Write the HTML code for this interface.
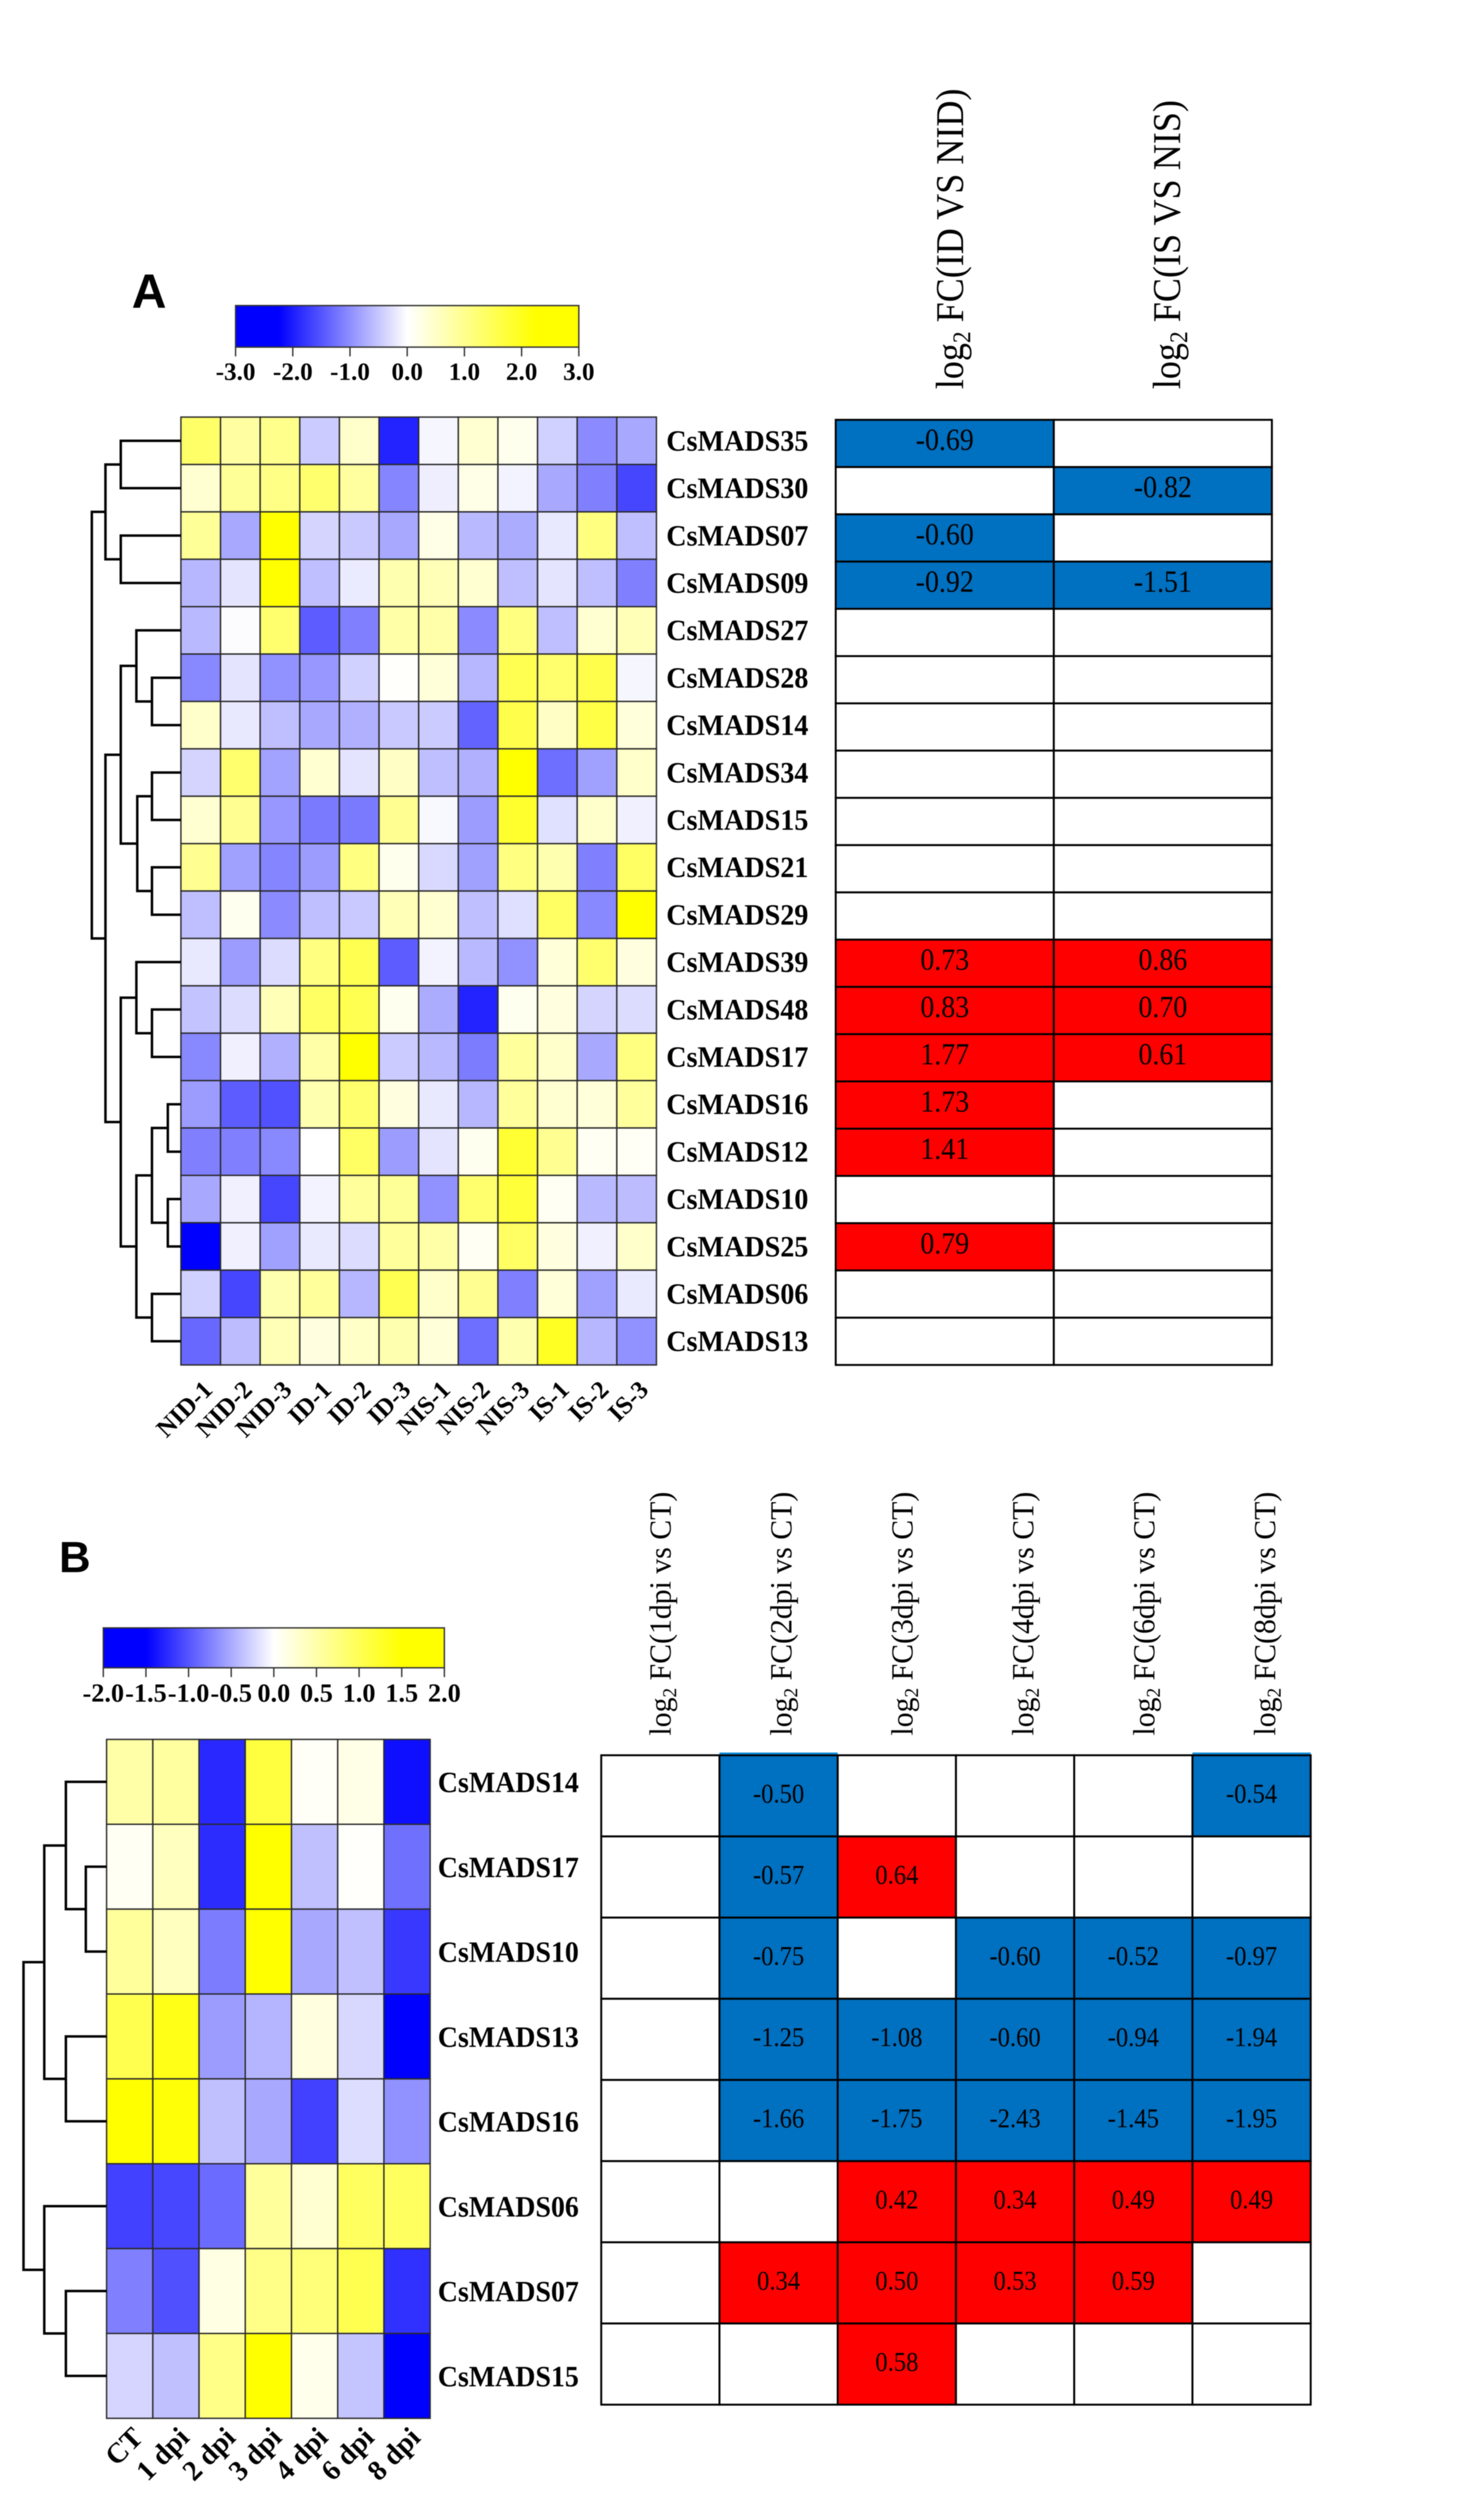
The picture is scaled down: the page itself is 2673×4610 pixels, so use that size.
<!DOCTYPE html>
<html lang="en">
<head>
<meta charset="utf-8">
<title>CsMADS expression heatmaps</title>
<style>
html,body{margin:0;padding:0;background:#fff;}
svg{display:block;filter:blur(0.9px);}
text{font-family:"Liberation Serif",serif;fill:#000;}
.panel-letter{font-family:"Liberation Sans",sans-serif;font-weight:700;}
.bold{font-weight:700;}
</style>
</head>
<body>
<svg id="figure" xmlns="http://www.w3.org/2000/svg" width="2673" height="4610" viewBox="0 0 2673 4610">
  <rect x="0" y="0" width="2673" height="4610" fill="#ffffff"/>
  <text class="panel-letter" x="241" y="563" font-size="88">A</text>
  <text class="panel-letter" x="108" y="2876" font-size="80">B</text>
</svg>
<script>
// ---------- Panel A data ----------
const genesA = ['CsMADS35','CsMADS30','CsMADS07','CsMADS09','CsMADS27','CsMADS28','CsMADS14','CsMADS34','CsMADS15','CsMADS21','CsMADS29','CsMADS39','CsMADS48','CsMADS17','CsMADS16','CsMADS12','CsMADS10','CsMADS25','CsMADS06','CsMADS13'];
const samplesA = ['NID-1','NID-2','NID-3','ID-1','ID-2','ID-3','NIS-1','NIS-2','NIS-3','IS-1','IS-2','IS-3'];
const colorTicksA = ['-3.0','-2.0','-1.0','0.0','1.0','2.0','3.0'];
const colorTickValuesA = [-3,-2,-1,0,1,2,3];
const heatA = [
 [1.3,0.8,1.0,-0.45,0.45,-1.9,-0.08,0.4,0.15,-0.4,-1.0,-0.75],
 [0.4,0.9,1.05,1.25,0.82,-1.05,-0.15,0.2,-0.1,-0.75,-1.1,-1.6],
 [0.9,-0.75,2.2,-0.37,-0.47,-0.75,0.2,-0.6,-0.72,-0.2,1.1,-0.55],
 [-0.62,-0.23,2.2,-0.55,-0.17,0.68,0.62,0.4,-0.55,-0.23,-0.55,-1.1],
 [-0.6,-0.03,1.25,-1.4,-1.1,0.75,0.73,-1.0,1.1,-0.55,0.4,0.62],
 [-1.03,-0.23,-0.95,-0.9,-0.4,0.03,0.33,-0.62,1.5,1.25,1.55,-0.08],
 [0.45,-0.2,-0.55,-0.75,-0.68,-0.47,-0.45,-1.35,1.55,0.5,1.6,0.3],
 [-0.37,1.25,-0.8,0.4,-0.23,0.5,-0.55,-0.68,2.2,-1.25,-0.82,0.45],
 [0.4,0.95,-0.9,-1.15,-1.15,0.95,-0.06,-0.85,1.8,-0.27,0.45,-0.13],
 [0.95,-0.82,-1.05,-0.85,1.1,0.15,-0.33,-0.82,1.1,0.68,-1.1,1.35],
 [-0.55,0.13,-1.0,-0.55,-0.47,0.62,0.4,-0.55,-0.28,1.35,-1.03,2.2],
 [-0.2,-0.85,-0.3,1.1,1.5,-1.4,-0.1,-0.6,-0.95,0.33,1.25,0.27],
 [-0.52,-0.3,0.62,1.35,1.5,0.13,-0.72,-1.9,0.13,0.27,-0.37,-0.3],
 [-1.03,-0.13,-0.68,0.75,2.2,-0.45,-0.6,-1.13,0.85,0.45,-0.75,1.1],
 [-0.85,-1.4,-1.5,0.68,1.25,0.27,-0.2,-0.62,0.85,0.4,0.33,0.85],
 [-1.1,-1.1,-1.03,0,1.35,-0.85,-0.23,0.13,1.75,0.95,0.1,0.08],
 [-0.75,-0.13,-1.6,-0.1,0.85,0.9,-0.95,1.25,1.7,0.1,-0.6,-0.58],
 [-2.2,-0.13,-0.82,-0.18,-0.3,0.85,0.75,0.1,1.35,0.27,-0.13,0.45],
 [-0.4,-1.6,0.68,0.85,-0.62,1.5,0.45,0.95,-1.1,0.33,-0.82,-0.18],
 [-1.3,-0.58,0.62,0.27,0.48,0.68,0.33,-1.25,0.68,1.9,-0.62,-0.95]
];
const treeA = [1.0,
  [0.847,[0.675,0,1],[0.675,2,3]],
  [0.847,
    [0.675,[0.5,4,[0.325,5,6]],[0.49,[0.325,7,8],[0.325,9,10]]],
    [0.675,[0.5,11,[0.325,12,13]],[0.5,[0.325,[0.147,14,15],[0.147,16,17]],[0.325,18,19]]]
  ]
];
const fcHeadersA = [['FC(ID VS NID)',550],['FC(IS VS NIS)',529]];
const fcA = [
 [-0.69,null],[null,-0.82],[-0.60,null],[-0.92,-1.51],[null,null],[null,null],[null,null],[null,null],[null,null],[null,null],[null,null],
 [0.73,0.86],[0.83,0.70],[1.77,0.61],[1.73,null],[1.41,null],[null,null],[0.79,null],[null,null],[null,null]
];

// ---------- Panel B data ----------
const genesB = ['CsMADS14','CsMADS17','CsMADS10','CsMADS13','CsMADS16','CsMADS06','CsMADS07','CsMADS15'];
const samplesB = ['CT','1 dpi','2 dpi','3 dpi','4 dpi','6 dpi','8 dpi'];
const colorTicksB = ['-2.0','-1.5','-1.0','-0.5','0.0','0.5','1.0','1.5','2.0'];
const colorTickValuesB = [-2,-1.5,-1,-0.5,0,0.5,1,1.5,2];
const heatB = [
 [0.51,0.56,-1.26,1.13,0.04,0.14,-1.41],
 [0.07,0.37,-1.24,1.5,-0.37,0.02,-0.84],
 [0.58,0.37,-0.77,1.5,-0.51,-0.37,-1.17],
 [1.03,1.36,-0.58,-0.44,0.18,-0.23,-1.5],
 [1.5,1.45,-0.37,-0.51,-1.12,-0.2,-0.65],
 [-1.12,-1.08,-0.87,0.58,0.27,0.94,0.94],
 [-0.75,-1.03,0.16,0.7,0.79,1.03,-1.22],
 [-0.25,-0.37,0.7,1.5,0.11,-0.35,-1.5]
];
const treeB = [1.0,
  [0.75,[0.49,0,[0.25,1,2]],[0.49,3,4]],
  [0.75,5,[0.49,6,7]]
];
const fcHeadersB = ['FC(1dpi vs CT)','FC(2dpi vs CT)','FC(3dpi vs CT)','FC(4dpi vs CT)','FC(6dpi vs CT)','FC(8dpi vs CT)'];
const fcB = [
 [null,-0.50,null,null,null,-0.54],
 [null,-0.57,0.64,null,null,null],
 [null,-0.75,null,-0.60,-0.52,-0.97],
 [null,-1.25,-1.08,-0.60,-0.94,-1.94],
 [null,-1.66,-1.75,-2.43,-1.45,-1.95],
 [null,null,0.42,0.34,0.49,0.49],
 [null,0.34,0.50,0.53,0.59,null],
 [null,null,0.58,null,null,null]
];

// ---------- helpers ----------
const NS = 'http://www.w3.org/2000/svg';
const svg = document.getElementById('figure');
function make(parent, tag, attrs, txt) {
  const el = document.createElementNS(NS, tag);
  for (const k in attrs) el.setAttribute(k, attrs[k]);
  if (txt !== undefined) el.textContent = txt;
  parent.appendChild(el);
  return el;
}
function scaleColor(v, sat) {
  const t = Math.max(-1, Math.min(1, v / sat));
  const c = Math.round(255 * (1 - Math.abs(t)));
  return t < 0 ? 'rgb(' + c + ',' + c + ',255)' : 'rgb(255,255,' + c + ')';
}
function fmt(v) { return v.toFixed(2); }

// Colour bar
function drawColorbar(p) {
  const g = make(svg, 'g', {});
  
  
  const defs = make(g, 'defs', {});
  const grad = make(defs, 'linearGradient', {id: p.id + '-grad', x1: 0, x2: 1, y1: 0, y2: 0});
  const lo = p.values[0], hi = p.values[p.values.length - 1];
  [lo, -p.sat, 0, p.sat, hi].forEach(function (v) {
    make(grad, 'stop', {offset: (v - lo) / (hi - lo), 'stop-color': scaleColor(v, p.sat)});
  });
  const xOf = function (v) { return p.x0 + (v - lo) / (hi - lo) * (p.x1 - p.x0); };
  const bar = make(g, 'rect', {x: p.x0, y: p.y0, width: p.x1 - p.x0, height: p.y1 - p.y0, fill: 'url(#' + p.id + '-grad)', stroke: '#333', 'stroke-width': 2.5});
  
  
  p.values.forEach(function (v, i) {
    const tick = make(g, 'line', {x1: xOf(v), x2: xOf(v), y1: p.y1, y2: p.y1 + 17, stroke: '#333', 'stroke-width': 2.5});
    
    
    const lab = make(g, 'text', {x: xOf(v), y: p.labelY, 'font-size': p.font, 'text-anchor': 'middle', class: 'bold'}, p.labels[i]);
    
    
  });
}

// Heatmap with row labels, sample labels
function drawHeatmap(p) {
  const g = make(svg, 'g', {});
  
  
  const cw = (p.x1 - p.x0) / p.samples.length;
  const rh = (p.y1 - p.y0) / p.genes.length;
  p.values.forEach(function (row, r) {
    row.forEach(function (v, c) {
      const cell = make(g, 'rect', {x: p.x0 + c * cw, y: p.y0 + r * rh, width: cw, height: rh, fill: scaleColor(v, p.sat), stroke: '#2a2a2a', 'stroke-width': 2.5});
      
      
    });
  });
  p.genes.forEach(function (name, r) {
    const lab = make(g, 'text', {x: p.labelX, y: p.y0 + (r + 0.5) * rh + p.labelDy, 'font-size': 54, class: 'bold', textLength: p.labelLen, lengthAdjust: 'spacingAndGlyphs'}, name);
    
    
  });
  p.samples.forEach(function (name, c) {
    const x = p.x0 + (c + 0.5) * cw + p.sampleDx;
    const y = p.y1 + p.sampleDy;
    const lab = make(g, 'text', {x: x, y: y, 'font-size': p.sampleFont, class: 'bold', 'text-anchor': 'end', transform: 'rotate(-45 ' + x + ' ' + y + ')'}, name);
    
    
  });
  // dendrogram
  const tg = make(g, 'g', {});
  
  
  const xH = function (h) { return p.x0 - h * p.treeW; };
  const walk = function (node) {
    if (typeof node === 'number') return {x: p.x0, y: p.y0 + (node + 0.5) * rh};
    const a = walk(node[1]);
    const b = walk(node[2]);
    const x = xH(node[0]);
    const path = make(tg, 'path', {d: 'M' + a.x + ' ' + a.y + 'H' + x + 'V' + b.y + 'H' + b.x, fill: 'none', stroke: '#000', 'stroke-width': 4.5});
    
    
    return {x: x, y: (a.y + b.y) / 2};
  };
  walk(p.tree);
}

// Fold change table
function drawTable(p) {
  const g = make(svg, 'g', {});
  
  
  const cols = p.values[0].length, rows = p.values.length;
  const cw = (p.x1 - p.x0) / cols, rh = (p.y1 - p.y0) / rows;
  p.values.forEach(function (row, r) {
    row.forEach(function (v, c) {
      const fill = v === null ? '#ffffff' : (v < 0 ? '#0070c0' : '#ff0000');
      const cell = make(g, 'rect', {x: p.x0 + c * cw, y: p.y0 + r * rh, width: cw, height: rh, fill: fill, stroke: '#000', 'stroke-width': p.stroke});
      
      
    });
  });
  p.values.forEach(function (row, r) {
    row.forEach(function (v, c) {
      if (v === null) return;
      if (p.topAccent && r === 0 && v < 0) {
        const acc = make(g, 'rect', {x: p.x0 + c * cw, y: p.y0 - 5, width: cw, height: 3.5, fill: '#0a8ad8'});
        
        
      }
      const s = fmt(v);
      const len = p.emWidth * (v < 0 ? 2.083 : 1.75);
      const t = make(g, 'text', {x: p.x0 + (c + 0.5) * cw, y: p.y0 + (r + 0.5) * rh + p.textDy, 'font-size': p.font, 'text-anchor': 'middle', textLength: len, lengthAdjust: 'spacingAndGlyphs'}, s);
      
      
    });
  });
}

// Rotated log2 FC header
function drawHeader(id, x, y, font, label, len) {
  const t = make(svg, 'text', {x: x, y: y, 'font-size': font, transform: 'rotate(-90 ' + x + ' ' + y + ')', textLength: len, lengthAdjust: 'spacingAndGlyphs'});
  
  
  make(t, 'tspan', {}, 'log');
  make(t, 'tspan', {'font-size': font * 0.65, dy: font * 0.18}, '2');
  make(t, 'tspan', {dy: -font * 0.18}, ' ' + label);
}

// ---------- Panel A ----------
drawColorbar({id: 'panel-a', x0: 431, x1: 1059, y0: 559, y1: 635, values: colorTickValuesA, labels: colorTicksA, sat: 2.25, labelY: 695, font: 46});
drawHeatmap({id: 'panel-a', x0: 331, x1: 1201, y0: 763, y1: 2497, genes: genesA, samples: samplesA, values: heatA, sat: 2.2, tree: treeA, treeW: 163, labelX: 1219, labelLen: 260, labelDy: 18, sampleDx: 24, sampleDy: 48, sampleFont: 46});
drawTable({id: 'panel-a', x0: 1529, x1: 2327, y0: 768, y1: 2497, values: fcA, stroke: 3.5, font: 56, textDy: 12, emWidth: 51, topAccent: false});
drawHeader('panel-a', 1762, 712, 72, fcHeadersA[0][0], fcHeadersA[0][1]);
drawHeader('panel-a', 2159, 712, 72, fcHeadersA[1][0], fcHeadersA[1][1]);

// ---------- Panel B ----------
drawColorbar({id: 'panel-b', x0: 189, x1: 813, y0: 2978, y1: 3051, values: colorTickValuesB, labels: colorTicksB, sat: 1.5, labelY: 3113, font: 48});
drawHeatmap({id: 'panel-b', x0: 195, x1: 787, y0: 3182, y1: 4424, genes: genesB, samples: samplesB, values: heatB, sat: 1.5, tree: treeB, treeW: 152, labelX: 801, labelLen: 258, labelDy: 19, sampleDx: 27, sampleDy: 38, sampleFont: 52});
drawTable({id: 'panel-b', x0: 1100, x1: 2398, y0: 3211, y1: 4399, values: fcB, stroke: 3.5, font: 50, textDy: 12, emWidth: 45, topAccent: true});
fcHeadersB.forEach(function (label, i) {
  drawHeader('panel-b', 1227 + i * 221.2, 3175, 56, label, 446);
});
</script>
</body>
</html>
